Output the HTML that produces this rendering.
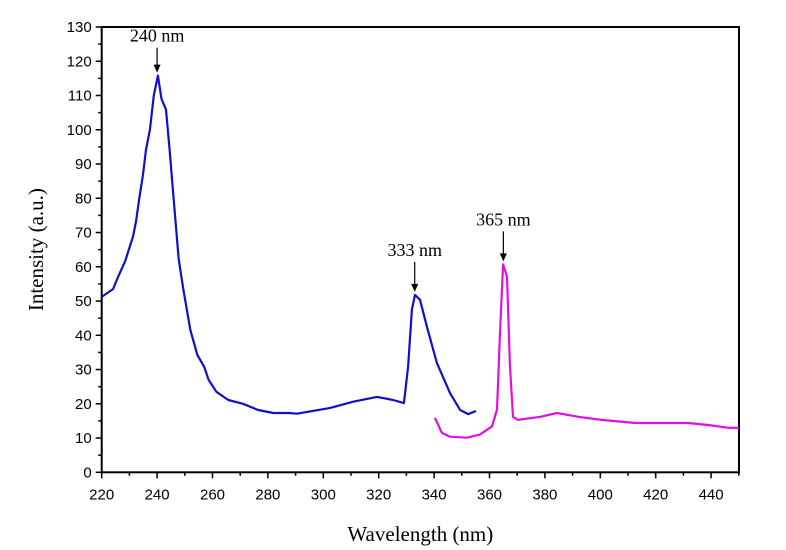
<!DOCTYPE html>
<html><head><meta charset="utf-8">
<style>
html,body{margin:0;padding:0;background:#fff;}
svg{display:block;}
text{font-family:"Liberation Sans",sans-serif;}
.serif{font-family:"Liberation Serif",serif;}
</style></head>
<body>
<svg id="chart" width="786" height="550" viewBox="0 0 786 550"></svg>
<script>
const xTicks=[220,240,260,280,300,320,340,360,380,400,420,440];
const yTicks=[0,10,20,30,40,50,60,70,80,90,100,110,120,130];
const blueX=[220,224.1,225.9,228.4,231.3,232.4,233.5,234.9,236,237.4,238.8,240.3,241.6,243.2,244.5,246,247.8,249.5,252,254.5,257,258.6,261.4,265.7,271,276.5,282,287.6,290.5,302.5,310.8,319.4,325.2,329.1,330.6,332,333.1,334.9,337.4,341,345.7,349.4,352.3,355.1];
const blueY=[51.2,53.5,57,61.5,68.8,73.2,79.6,86.9,94.2,100,110,115.8,109,105.9,94.2,79.6,62.2,53.3,41.6,34.3,30.8,27,23.5,21.1,20,18.2,17.3,17.3,17.1,18.8,20.6,22,21.1,20.2,30.8,47.5,51.8,50.4,42.5,31.9,23.2,18.2,17,17.9];
const pinkX=[340.3,342.8,345.7,351.8,356.5,360.9,362.7,363.8,364.9,366.3,367.4,368.5,370.3,378.3,384.4,392.1,400.4,412.7,431.8,439,446.3,450];
const pinkY=[15.9,11.5,10.4,10.1,11,13.4,18.3,40.7,60.7,57.1,30.8,16.2,15.3,16.2,17.3,16.2,15.3,14.4,14.4,13.8,13,13];
const annX=[240,333,365];
const annY=[115.8,51.8,60.7];
const annLabels=["240 nm","333 nm","365 nm"];
const annLen=[25,30,30];

const L=101.7,R=739,T=27,B=472.3;
const xs=v=>L+(v-220)*2.77;
const ys=v=>B-v*(B-T)/130;
const svg=document.getElementById('chart');
const NS='http://www.w3.org/2000/svg';
function mk(tag,attrs,parent){const e=document.createElementNS(NS,tag);for(const k in attrs)e.setAttribute(k,attrs[k]);(parent||svg).appendChild(e);return e;}

const frame=mk('rect',{x:L,y:T,width:R-L,height:B-T,fill:'none',stroke:'#000','stroke-width':2});



xTicks.forEach((t,i)=>{
  const x=xs(t);
  const tk=mk('line',{x1:x,x2:x,y1:B,y2:B+6,stroke:'#000','stroke-width':1.5});
  
  
  const mx=xs(t+10);
  if(mx<R){const m=mk('line',{x1:mx,x2:mx,y1:B,y2:B+3.5,stroke:'#000','stroke-width':1.5});
  
  }
  const lb=mk('text',{x:x,y:B+27,'text-anchor':'middle','font-size':15});
  lb.textContent=t;
  
  
});
yTicks.forEach(t=>{
  const y=ys(t);
  const tk=mk('line',{x1:L-6,x2:L,y1:y,y2:y,stroke:'#000','stroke-width':1.5});
  
  
  if(t<130){const my=ys(t+5);const m=mk('line',{x1:L-3.5,x2:L,y1:my,y2:my,stroke:'#000','stroke-width':1.5});
  
  }
  const lb=mk('text',{x:L-10,y:y+5,'text-anchor':'end','font-size':15});
  lb.textContent=t;
  
  
});

function series(X,Y,color,name){
  const d=X.map((v,i)=>(i?'L':'M')+xs(v).toFixed(1)+','+ys(Y[i]).toFixed(1)).join(' ');
  const p=mk('path',{d:d,fill:'none',stroke:color,'stroke-width':2.2,'stroke-linejoin':'round'});
  
  
}
series(blueX,blueY,'#1010c8','excitation-spectrum-line');
series(pinkX,pinkY,'#e010e0','emission-spectrum-line');

annX.forEach((a,i)=>{
  const x=xs(a),y=ys(annY[i])-3;
  const ln=mk('line',{x1:x,x2:x,y1:y-annLen[i],y2:y-6,stroke:'#000','stroke-width':1.2});
  
  
  const hd=mk('polygon',{points:`${x-3.5},${y-8} ${x+3.5},${y-8} ${x},${y}`,fill:'#000'});
  
  
  const t=mk('text',{x:x,y:y-annLen[i]-6,'text-anchor':'middle','font-size':18,class:'serif'});
  t.textContent=annLabels[i];
  
  
});

const xt=mk('text',{x:(L+R)/2,y:541,'text-anchor':'middle','font-size':21,class:'serif'});
xt.textContent='Wavelength (nm)';


const yt=mk('text',{x:0,y:0,'text-anchor':'middle','font-size':21,class:'serif',transform:`translate(43,${(T+B)/2}) rotate(-90)`});
yt.textContent='Intensity (a.u.)';


</script>
</body></html>
